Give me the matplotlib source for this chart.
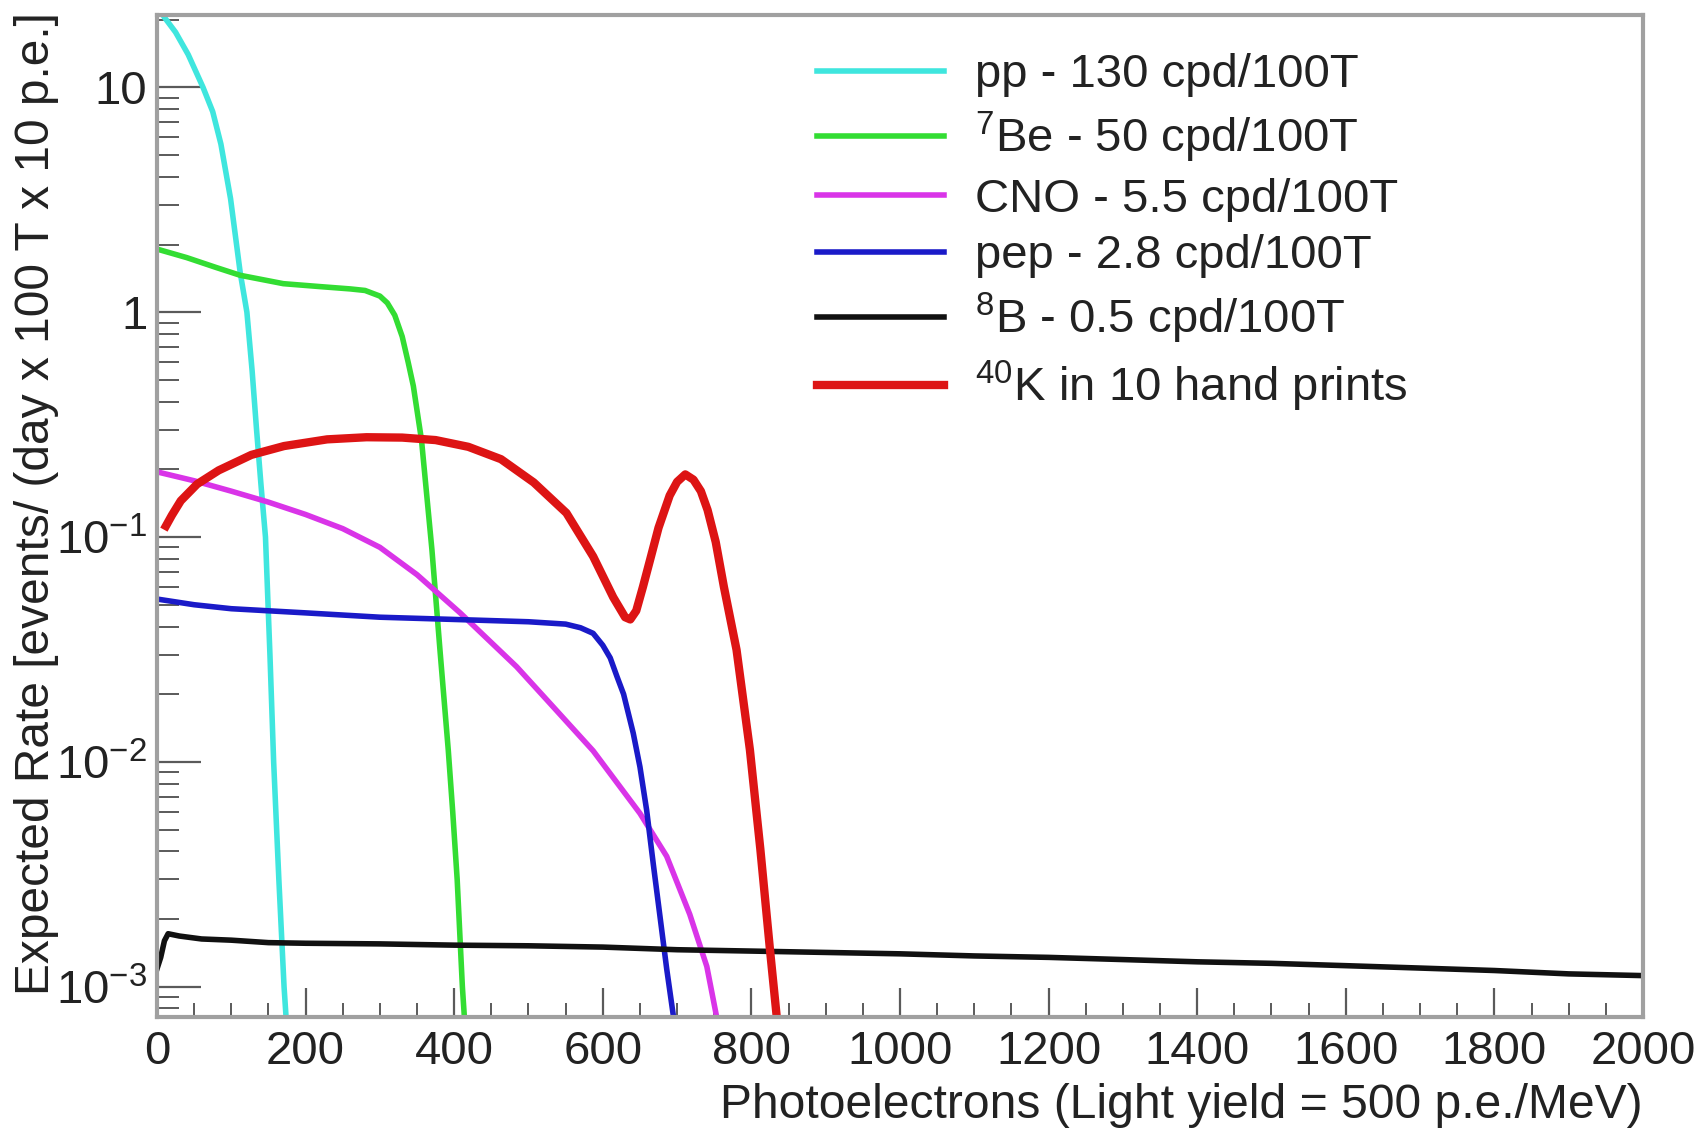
import matplotlib
matplotlib.use('Agg')
import matplotlib.pyplot as plt
from matplotlib.ticker import MultipleLocator, LogLocator, FixedLocator, FixedFormatter, NullFormatter

plt.rcParams['font.family'] = ['Liberation Sans', 'DejaVu Sans']
plt.rcParams['mathtext.fontset'] = 'custom'
plt.rcParams['mathtext.rm'] = 'Liberation Sans'
plt.rcParams['mathtext.it'] = 'Liberation Sans:italic'
plt.rcParams['mathtext.bf'] = 'Liberation Sans:bold'

# ---------------- data ----------------
pp_x = [0, 10, 25, 42, 62, 75, 86, 99, 112, 121, 128, 134, 140, 146, 152, 157, 164, 171, 177]
pp_y = [23, 20.5, 17.6, 14.0, 10.0, 7.8, 5.6, 3.2, 1.5, 1.0, 0.55, 0.30, 0.17, 0.10, 0.03, 0.01,
        0.003, 0.001, 0.0005]

be7_x = [0, 40, 80, 112, 170, 220, 260, 280, 300, 310, 320, 330, 338, 345, 356, 370, 381, 392,
         398, 404, 411, 417]
be7_y = [1.91, 1.75, 1.58, 1.46, 1.34, 1.30, 1.27, 1.25, 1.18, 1.10, 0.97, 0.78, 0.60, 0.47, 0.27,
         0.088, 0.031, 0.0113, 0.006, 0.003, 0.001, 0.0005]

cno_x = [0, 50, 100, 150, 200, 250, 300, 350, 408, 484, 529, 587, 650, 686, 717, 740, 753]
cno_y = [0.195, 0.178, 0.160, 0.143, 0.126, 0.109, 0.090, 0.068, 0.046, 0.0265, 0.0182, 0.0112,
         0.0059, 0.0038, 0.0021, 0.00123, 0.00074]

pep_x = [0, 50, 100, 200, 300, 400, 500, 550, 570, 587, 600, 610, 619, 628, 641, 650, 659, 668,
         677, 686, 695]
pep_y = [0.053, 0.050, 0.048, 0.046, 0.044, 0.043, 0.042, 0.041, 0.0395, 0.0373, 0.033, 0.029,
         0.024, 0.020, 0.0134, 0.0095, 0.0061, 0.0035, 0.00205, 0.0012, 0.00074]

b8_x = [0, 5, 10, 15, 30, 60, 100, 150, 200, 300, 400, 500, 600, 700, 800, 900, 1000, 1100,
        1200, 1300, 1400, 1500, 1600, 1700, 1800, 1900, 2000]
b8_y = [0.00120, 0.00135, 0.00160, 0.00172, 0.00168, 0.00163, 0.00161, 0.00157, 0.00156, 0.00155,
        0.00153, 0.00152, 0.00150, 0.00146, 0.00144, 0.00142, 0.00140, 0.00137, 0.00135, 0.00132,
        0.00129, 0.00127, 0.00124, 0.00121, 0.00118, 0.00114, 0.00112]

k40_x = [12, 20, 32, 54, 83, 127, 171, 229, 282, 330, 375, 419, 463, 507, 551, 587, 614, 630, 637,
         645, 654, 664, 675, 690, 700, 711, 722, 732, 741, 752, 763, 780, 798, 812, 825, 834]
k40_y = [0.112, 0.125, 0.145, 0.172, 0.198, 0.232, 0.254, 0.272, 0.278, 0.277, 0.270, 0.252,
         0.222, 0.175, 0.128, 0.082, 0.054, 0.044, 0.043, 0.047, 0.060, 0.080, 0.110, 0.153, 0.176,
         0.190, 0.180, 0.160, 0.132, 0.095, 0.060, 0.0315, 0.0113, 0.0041, 0.00146, 0.00074]

labels = ['pp - 130 cpd/100T',
          r'$^{7}$Be - 50 cpd/100T',
          'CNO - 5.5 cpd/100T',
          'pep - 2.8 cpd/100T',
          r'$^{8}$B - 0.5 cpd/100T',
          r'$^{40}$K in 10 hand prints']

xticks = list(range(0, 2001, 200))
yticks = [1e-3, 1e-2, 1e-1, 1, 10]
yticklabels = [r'$10^{-3}$', r'$10^{-2}$', r'$10^{-1}$', '1', '10']

# ---------------- figure ----------------
W, H = 1706, 1129
fig = plt.figure(figsize=(W / 100, H / 100), dpi=100)
L, R, T, B = 157, 1643, 15, 1017
ax = fig.add_axes([L / W, 1 - B / H, (R - L) / W, (B - T) / H])

series = [
    (pp_x, pp_y, '#3fe6de', 4.0),
    (be7_x, be7_y, '#33dd33', 4.0),
    (cno_x, cno_y, '#d934e8', 4.0),
    (pep_x, pep_y, '#1a1ac8', 4.0),
    (b8_x, b8_y, '#111111', 4.0),
    (k40_x, k40_y, '#dd1414', 6.0),
]
for (x, y, c, lw), lab in zip(series, labels):
    ax.plot(x, y, color=c, lw=lw, label=lab, solid_joinstyle='round')

ax.set_yscale('log')
ax.set_xlim(0, 2000)
ax.set_ylim(7.33e-4, 21.0)

ax.xaxis.set_major_locator(FixedLocator(xticks))
ax.xaxis.set_minor_locator(MultipleLocator(50))
ax.yaxis.set_major_locator(FixedLocator(yticks))
ax.yaxis.set_major_formatter(FixedFormatter(yticklabels))
ax.yaxis.set_minor_locator(LogLocator(base=10, subs=[2, 3, 4, 5, 6, 7, 8, 9], numticks=20))
ax.yaxis.set_minor_formatter(NullFormatter())

tick_col = '#5a5a5a'
ax.tick_params(axis='x', which='major', direction='in', length=21, width=1.6, color=tick_col,
               labelsize=34, pad=9, top=False)
ax.tick_params(axis='x', which='minor', direction='in', length=10, width=1.4, color=tick_col, top=False)
ax.tick_params(axis='y', which='major', direction='in', length=32, width=1.6, color=tick_col,
               labelsize=34, pad=7, right=False)
ax.tick_params(axis='y', which='minor', direction='in', length=16, width=1.4, color=tick_col, right=False)
for lab in ax.get_xticklabels() + ax.get_yticklabels():
    lab.set_color('#222222')

for s in ax.spines.values():
    s.set_color('#a0a0a0')
    s.set_linewidth(3)

ax.set_xlabel('Photoelectrons (Light yield = 500 p.e./MeV)', fontsize=34.6, loc='right', color='#222222')
ax.xaxis.set_label_coords(1.0, -0.066)
ax.set_ylabel('Expected Rate [events/ (day x 100 T x 10 p.e.]', fontsize=34.5, loc='top', color='#222222')
ax.yaxis.set_label_coords(-0.066, 1.003)

leg = ax.legend(loc='upper left', bbox_to_anchor=(0.444, 0.962), frameon=False, fontsize=34,
                handlelength=2.69, handletextpad=0.67, labelspacing=0.27, borderpad=0,
                borderaxespad=0)
for t in leg.get_texts():
    t.set_color('#222222')

fig.savefig('out.png', dpi=100)
